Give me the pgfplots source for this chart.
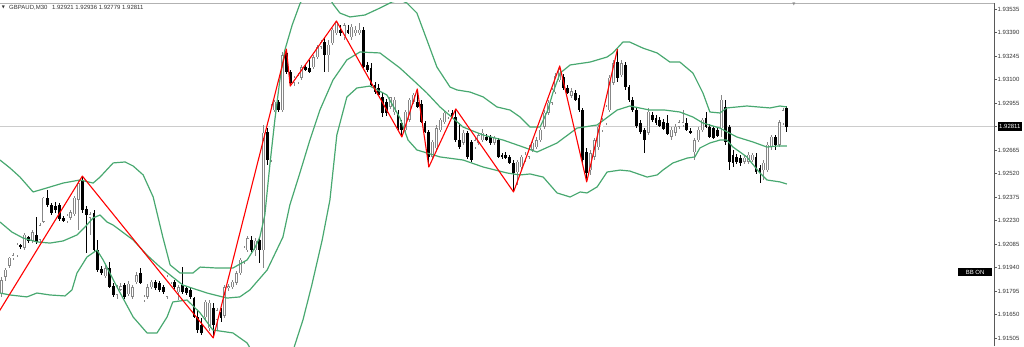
\documentclass[border=0pt]{standalone}
\usepackage{pgfplots}
\pgfplotsset{compat=1.18}
\usepackage{pgfplotstable}
\usepackage{fontspec}
\setmainfont{Liberation Sans}
\newfontfamily\dejavu{DejaVu Sans}
\definecolor{bandgreen}{RGB}{72,168,112}
\definecolor{cgray}{RGB}{135,135,135}

% prices in points above 1.90000 (1 point = 0.00001)
\pgfplotstableread{
i o h l c
0 1784 1883 1760 1864
1 1883 1938 1858 1926
2 1951 2006 1938 2000
3 2000 2031 1988 2018
4 2018 2092 2006 2080
5 2080 2086 2055 2068
6 2062 2154 2049 2142
7 2129 2136 2092 2105
8 2105 2173 2092 2160
9 2142 2253 2086 2099
10 2111 2216 2092 2203
11 2222 2376 2216 2370
12 2370 2419 2314 2327
13 2327 2339 2265 2277
14 2321 2345 2277 2296
15 2327 2339 2228 2240
16 2247 2259 2222 2228
17 2228 2271 2216 2259
18 2247 2296 2234 2283
19 2271 2382 2259 2370
20 2358 2481 2173 2462
21 2475 2505 2277 2296
22 2302 2321 2031 2265
23 2247 2283 2142 2271
24 2277 2296 2043 2049
25 2049 2111 1913 1926
26 1932 1951 1895 1907
27 1889 1963 1877 1938
28 1938 1975 1815 1821
29 1827 1846 1760 1772
30 1772 1834 1747 1809
31 1803 1846 1797 1827
32 1834 1846 1747 1760
33 1778 1858 1766 1840
34 1760 1834 1747 1821
35 1852 1913 1840 1895
36 1907 1938 1840 1846
37 1741 1772 1729 1760
38 1760 1840 1747 1821
39 1821 1864 1809 1852
40 1852 1864 1803 1815
41 1846 1858 1790 1803
42 1821 1834 1778 1790
43 1760 1895 1747 1883
44 1852 1889 1840 1883
45 1852 1864 1809 1821
46 1790 1834 1741 1821
47 1834 1944 1778 1790
48 1815 1827 1772 1784
49 1803 1815 1747 1760
50 1753 1760 1630 1636
51 1636 1679 1538 1556
52 1587 1630 1525 1538
53 1636 1741 1618 1729
54 1568 1741 1550 1723
55 1692 1723 1507 1587
56 1618 1692 1556 1679
57 1667 1692 1605 1630
58 1643 1834 1630 1821
59 1815 1840 1797 1827
60 1821 1864 1809 1852
61 1846 1920 1834 1907
62 1907 2000 1895 1988
63 1975 2074 1963 2062
64 2049 2136 2037 2123
65 2111 2136 2037 2049
66 2049 2123 2012 2105
67 2111 2123 1969 2049
68 2049 2820 1938 2771
69 2777 2801 2573 2604
70 2604 2949 2592 2931
71 2912 2974 2900 2962
72 2962 2974 2900 2912
73 2912 3270 2900 3251
74 3264 3288 3134 3147
75 3147 3159 3060 3079
76 3079 3122 3060 3110
77 3085 3140 3073 3128
78 3110 3190 3097 3177
79 3177 3196 3153 3159
80 3171 3221 3140 3147
81 3177 3251 3165 3239
82 3239 3313 3227 3301
83 3301 3344 3288 3331
84 3331 3356 3147 3251
85 3251 3344 3147 3313
86 3325 3418 3313 3406
87 3387 3461 3375 3449
88 3406 3436 3369 3387
89 3362 3449 3344 3436
90 3406 3436 3381 3387
91 3362 3443 3344 3424
92 3387 3430 3369 3406
93 3387 3449 3375 3406
94 3406 3424 3171 3177
95 3190 3208 3147 3159
96 3171 3202 3060 3066
97 3066 3085 3011 3023
98 3048 3073 2999 3005
99 2992 3017 2869 2894
100 2962 2980 2875 2894
101 2931 2995 2919 2992
102 2900 2992 2881 2974
103 2894 2912 2789 2801
104 2832 2851 2746 2789
105 2789 2912 2771 2900
106 2851 2986 2838 2974
107 2962 3017 2949 3005
108 2962 3042 2925 2931
109 2949 2974 2832 2838
110 2832 2844 2771 2777
111 2777 2789 2561 2623
112 2623 2727 2604 2715
113 2678 2820 2666 2801
114 2789 2863 2777 2851
115 2838 2906 2826 2894
116 2869 2912 2857 2900
117 2894 2912 2863 2869
118 2869 2919 2715 2727
119 2727 2832 2672 2684
120 2709 2789 2697 2771
121 2771 2783 2610 2623
122 2715 2727 2592 2604
123 2684 2740 2672 2727
124 2709 2770 2697 2758
125 2727 2795 2715 2771
126 2746 2764 2721 2727
127 2746 2758 2697 2709
128 2709 2752 2697 2740
129 2727 2740 2617 2623
130 2635 2647 2610 2623
131 2635 2653 2610 2617
132 2623 2635 2579 2586
133 2586 2604 2407 2524
134 2530 2604 2450 2592
135 2561 2635 2542 2623
136 2604 2653 2592 2635
137 2623 2697 2610 2678
138 2666 2721 2653 2709
139 2684 2746 2672 2727
140 2727 2801 2715 2789
141 2808 2912 2795 2894
142 2894 2974 2881 2956
143 2956 3048 2943 3036
144 3023 3140 3011 3122
145 3097 3184 3085 3159
146 3116 3134 3036 3048
147 3048 3067 3011 3017
148 2999 3048 2986 3029
149 3017 3036 2968 2974
150 2986 3005 2900 2912
151 2912 2925 2573 2604
152 2653 2678 2469 2524
153 2542 2666 2512 2647
154 2623 2740 2604 2727
155 2684 2820 2666 2808
156 2789 2863 2777 2851
157 2832 2943 2820 2931
158 2912 3128 2900 3110
159 3079 3221 3066 3202
160 3208 3288 3085 3110
161 3128 3221 3116 3202
162 3190 3208 3036 3054
163 3054 3066 2962 2974
164 2974 2992 2900 2912
165 2912 2925 2801 2814
166 2832 2851 2764 2777
167 2789 2801 2647 2727
168 2771 2925 2758 2900
169 2881 2900 2838 2851
170 2863 2881 2820 2832
171 2851 2869 2808 2814
172 2838 2857 2789 2795
173 2832 2881 2758 2764
174 2746 2808 2727 2789
175 2771 2826 2752 2808
176 2808 2851 2795 2838
177 2820 2912 2808 2838
178 2832 2863 2783 2789
179 2783 2801 2764 2771
180 2653 2740 2604 2727
181 2727 2808 2715 2789
182 2789 2863 2777 2851
183 2863 2900 2801 2808
184 2808 2826 2740 2746
185 2801 2814 2734 2740
186 2789 2808 2746 2752
187 2801 3005 2746 2974
188 2931 2974 2697 2715
189 2808 2820 2542 2592
190 2635 2666 2561 2586
191 2623 2641 2579 2592
192 2617 2635 2567 2586
193 2592 2629 2579 2617
194 2592 2653 2579 2635
195 2604 2647 2592 2635
196 2623 2647 2518 2530
197 2555 2573 2462 2530
198 2542 2604 2481 2586
199 2542 2715 2530 2697
200 2684 2758 2666 2746
201 2746 2758 2666 2697
202 2697 2851 2684 2838
203 2832 2925 2820 2912
204 2921 2936 2779 2811
}\candles

\pgfplotstableread{
i p
-0.4 2604
2.2 2555
4.8 2499
8.2 2407
10.8 2425
16.0 2462
20.4 2481
23.8 2462
25.6 2499
29.0 2586
32.1 2592
34.2 2567
36.8 2512
39.4 2376
41.9 2129
43.8 1957
46.4 1907
49.7 1907
51.6 1944
56.0 1938
60.1 1938
63.8 1988
65.8 2062
67.1 2129
68.4 2265
69.7 2573
71.0 2851
72.3 3097
73.6 3282
75.5 3436
77.5 3566
80.1 3683
82.7 3714
84.8 3621
86.1 3566
87.9 3510
90.5 3486
94.4 3498
98.3 3541
101.4 3578
103.5 3590
105.3 3572
107.9 3510
110.5 3344
113.1 3177
116.5 3054
118.3 3036
121.7 3023
125.1 2993
128.7 2931
132.1 2912
134.7 2869
137.3 2807
139.9 2807
141.9 2912
143.2 3017
145.1 3140
147.7 3190
152.9 3208
157.3 3239
158.8 3264
161.4 3331
163.2 3331
166.6 3294
170.3 3264
173.6 3208
176.2 3208
179.6 3140
182.2 3017
184.0 2900
186.6 2894
188.4 2925
193.6 2937
199.6 2925
202.2 2937
204.0 2931
}\upperband

\pgfplotstableread{
i p
-0.4 2222
2.7 2160
5.6 2123
9.2 2099
12.6 2092
16.0 2105
19.6 2142
21.7 2191
23.8 2247
25.6 2265
27.4 2222
29.0 2203
34.2 2111
37.8 2018
41.2 1944
47.1 1833
53.4 1784
58.6 1753
61.9 1760
64.5 1803
69.0 1926
73.1 2129
74.9 2327
77.5 2524
80.1 2727
82.7 2912
86.1 3097
89.7 3221
93.1 3270
98.3 3264
103.5 3171
106.9 3097
110.5 3017
113.9 2931
119.9 2807
125.1 2758
130.3 2727
135.5 2684
139.1 2653
144.3 2709
149.5 2801
154.7 2820
159.9 2912
163.2 2937
168.4 2912
172.3 2912
176.2 2900
179.6 2869
182.2 2832
186.6 2801
191.0 2746
195.2 2715
198.8 2684
201.4 2690
204.0 2690
}\midband

\pgfplotstableread{
i p
-0.4 1784
2.2 1772
6.6 1760
9.2 1784
12.6 1772
16.5 1766
18.3 1803
19.6 1907
22.2 2006
24.8 2049
26.4 1988
30.0 1821
34.2 1636
37.8 1538
40.4 1538
43.0 1636
44.5 1729
48.2 1741
51.6 1661
54.9 1556
60.1 1538
63.8 1476
67.1 1340
71.0 1217
74.2 1310
76.2 1464
78.3 1618
80.6 1833
83.3 2111
85.3 2357
87.1 2758
89.7 2992
92.3 3048
95.7 3060
100.1 3005
103.5 2863
105.6 2727
107.9 2666
113.9 2623
119.9 2604
125.1 2561
131.3 2524
134.7 2512
137.3 2518
140.7 2499
144.3 2401
147.7 2376
150.3 2407
152.1 2401
154.7 2438
157.3 2530
160.7 2542
163.2 2536
167.7 2499
170.3 2512
171.8 2542
174.4 2586
178.1 2616
180.1 2623
181.4 2678
184.0 2709
186.6 2727
188.4 2727
190.0 2684
193.6 2623
197.0 2524
198.8 2481
202.2 2469
204.0 2456
}\lowerband

\pgfplotstableread{
i p
-5 1501
21 2505
55 1507
74 3288
75 3060
87 3461
104 2746
108 3042
111 2561
118 2919
133 2407
145 3184
152 2469
160 3288
}\zigzag

\pgfplotsset{
  candle/.style={draw=none, mark=none, forget plot,
    error bars/.cd, y dir=both, y explicit, error mark=none},
}

\begin{document}
\begin{tikzpicture}
\begin{axis}[
  name=ax,
  scale only axis,
  width=994pt, height=343pt,
  xmin=-0.39, xmax=257.8,
  ymin=1457.4, ymax=3572,
  axis x line*=top, axis y line*=right,
  x axis line style={draw=black!30, line width=0.9pt, -},
  y axis line style={draw=black!65, line width=0.8pt, -},
  xtick=\empty,
  ytick={1505,1650,1795,1940,2085,2230,2375,2520,2665,2955,3100,3245,3390,3535},
  yticklabels={1.91505,1.91650,1.91795,1.91940,1.92085,1.92230,1.92375,1.92520,1.92665,1.92955,1.93100,1.93245,1.93390,1.93535},
  tick align=outside, major tick length=2.5pt,
  y tick style={draw=black!65, line width=0.6pt},
  yticklabel style={font=\fontsize{6}{7}\selectfont, text=black!80, anchor=west, inner sep=0pt, xshift=1pt},
  extra y ticks={2811}, extra y tick labels={1.92811},
  extra y tick style={yticklabel style={fill=black, text=white, inner xsep=1.5pt, inner ysep=0pt, minimum height=9pt}},
]
% current price line
\addplot[draw=black!20, line width=0.6pt] coordinates {(-1,2811) (258,2811)};

% wicks
\addplot[candle, error bar style={draw=cgray, line width=0.8pt, solid}]
  table[x=i, y expr={\thisrow{c}>=\thisrow{o} ? (\thisrow{h}+\thisrow{l})/2 : nan},
        y error expr={(\thisrow{h}-\thisrow{l})/2}] {\candles};
\addplot[candle, error bar style={draw=black, line width=0.8pt, solid}]
  table[x=i, y expr={\thisrow{c}<\thisrow{o} ? (\thisrow{h}+\thisrow{l})/2 : nan},
        y error expr={(\thisrow{h}-\thisrow{l})/2}] {\candles};
% bear bodies
\addplot[candle, error bar style={draw=black, line width=2.8pt, line cap=butt, solid}]
  table[x=i, y expr={\thisrow{c}<\thisrow{o} ? (\thisrow{o}+\thisrow{c})/2 : nan},
        y error expr={(\thisrow{o}-\thisrow{c})/2+2}] {\candles};
% bull bodies: outline then white fill
\addplot[candle, error bar style={draw=cgray, line width=2.8pt, line cap=butt, solid}]
  table[x=i, y expr={\thisrow{c}>=\thisrow{o} ? (\thisrow{o}+\thisrow{c})/2 : nan},
        y error expr={(\thisrow{c}-\thisrow{o})/2+2}] {\candles};
\addplot[candle, error bar style={draw=white, line width=1.3pt, line cap=butt, solid}]
  table[x=i, y expr={\thisrow{c}-\thisrow{o}>=10 ? (\thisrow{o}+\thisrow{c})/2 : nan},
        y error expr={(\thisrow{c}-\thisrow{o})/2-3}] {\candles};

% Bollinger bands
\addplot[draw=bandgreen, line width=1.2pt, line join=round] table[x=i, y=p] {\upperband};
\addplot[draw=bandgreen, line width=1.2pt, line join=round] table[x=i, y=p] {\midband};
\addplot[draw=bandgreen, line width=1.2pt, line join=round] table[x=i, y=p] {\lowerband};

% ZigZag
\addplot[draw=red, line width=1.1pt, line join=round] table[x=i, y=p] {\zigzag};

% texts
\node[anchor=center, inner sep=0pt, text=black!80, font=\dejavu\fontsize{4}{5}\selectfont] at (axis cs:0.52,3545) {▼};
\node[anchor=west, inner sep=0pt, text=black!80, font=\fontsize{6}{7}\selectfont] at (axis cs:1.95,3545) {GBPAUD,M30\hspace{3pt} 1.92921 1.92936 1.92779 1.92811};
\node[anchor=center, inner sep=0pt, text=black!45, font=\dejavu\fontsize{4}{5}\selectfont] at (axis cs:205.8,3562) {▼};
\node[anchor=center, fill=black, text=white, inner sep=0pt, minimum width=34pt, minimum height=8.5pt, font=\fontsize{6}{7}\selectfont] at (axis cs:252.9,1913) {BB ON};
\end{axis}
\pgfresetboundingbox
\path[use as bounding box] (ax.south west) rectangle ([shift={(1024pt,346pt)}]ax.south west);
\end{tikzpicture}
\end{document}
